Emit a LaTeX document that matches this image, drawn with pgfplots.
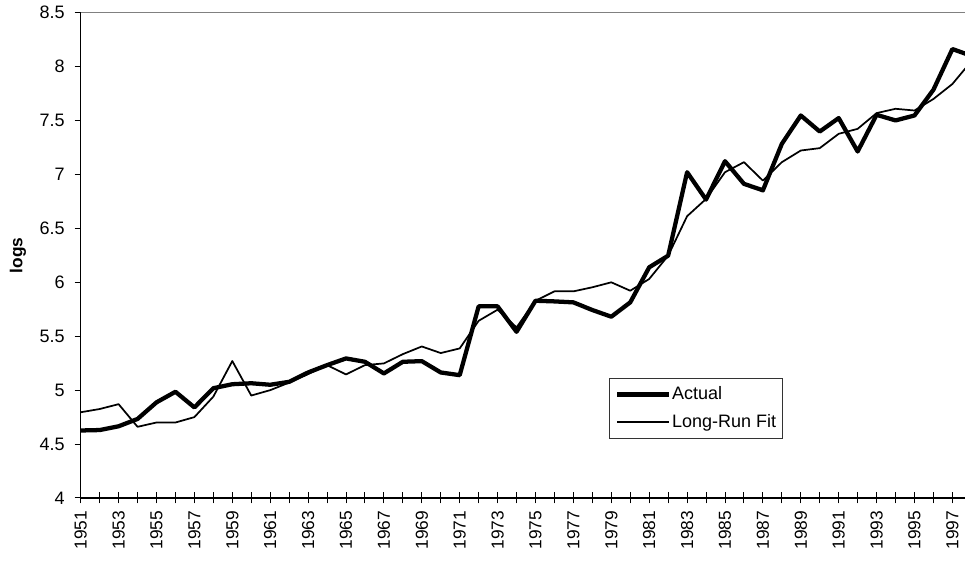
\documentclass[border=0pt]{standalone}
\usepackage{pgfplots}
\pgfplotsset{compat=1.18}
\usepackage{fontspec}
\setmainfont{Liberation Sans}
\begin{document}
\fontsize{13pt}{15.6pt}\selectfont
\begin{tikzpicture}
\begin{axis}[
  at={(0,0)}, anchor=south west,
  scale only axis,
  width=663.225pt, height=363.975pt,
  xmin=1951, xmax=1997.665,
  ymin=4, ymax=8.5,
  axis x line*=bottom, axis y line*=left,
  axis line style={line width=0.9pt, -},
  xtick={1951,1953,...,1997},
  minor xtick={1952,1954,...,1998},
  ytick={4,4.5,...,8.5},
  x tick label style={/pgf/number format/1000 sep={}},
  /pgf/number format/assume math mode=true,
  xtick align=center,
  ytick align=outside,
  major tick length=4.5pt,
  minor tick length=4.5pt,
  xtick style={/pgfplots/major tick length=8.25pt, /pgfplots/minor tick length=8.25pt},
  every tick/.style={black, line width=0.75pt},
  every minor tick/.style={black, line width=0.75pt},
  xticklabel style={rotate=90, anchor=east, inner sep=0pt, font=\fontsize{13pt}{15.6pt}\selectfont},
  yticklabel style={inner sep=0pt, font=\fontsize{13.5pt}{16pt}\selectfont},
  xticklabel shift=7.1pt,
  yticklabel shift=7.3pt,
  ylabel={\bfseries logs},
  every axis y label/.style={at={(axis description cs:-0.0709,0.5)}, rotate=90, anchor=center, font=\fontsize{13pt}{15.6pt}\selectfont},
  legend style={at={(axis description cs:0.5978,0.2467)}, anchor=north west,
    draw=black!80, line width=0.75pt, fill=white,
    inner xsep=4pt, inner ysep=5pt, row sep=7pt,
    font=\fontsize{13.5pt}{16pt}\selectfont,
    nodes={inner xsep=1pt, inner ysep=1pt}},
  legend cell align=left,
  legend image code/.code={\draw[#1] (0pt,0pt) -- (38.5pt,0pt);},
]
\addplot[black, line width=3.2pt, line join=round] coordinates {
(1951,4.626) (1952,4.63) (1953,4.665) (1954,4.733) (1955,4.887) (1956,4.985)
(1957,4.84) (1958,5.018) (1959,5.055) (1960,5.064) (1961,5.05) (1962,5.077)
(1963,5.164) (1964,5.232) (1965,5.294) (1966,5.263) (1967,5.155) (1968,5.263)
(1969,5.269) (1970,5.164) (1971,5.139) (1972,5.777) (1973,5.777) (1974,5.541)
(1975,5.829) (1976,5.823) (1977,5.814) (1978,5.743) (1979,5.681) (1980,5.814)
(1981,6.139) (1982,6.247) (1983,7.021) (1984,6.767) (1985,7.123) (1986,6.913)
(1987,6.853) (1988,7.284) (1989,7.547) (1990,7.398) (1991,7.523) (1992,7.213)
(1993,7.553) (1994,7.501) (1995,7.547) (1996,7.786) (1997,8.163) (1998,8.10)
};
\addlegendentry{Actual}
\addplot[black, line width=1.3pt, line join=round] coordinates {
(1951,4.795) (1952,4.825) (1953,4.87) (1954,4.66) (1955,4.70) (1956,4.70)
(1957,4.75) (1958,4.94) (1959,5.27) (1960,4.95) (1961,5.0) (1962,5.07)
(1963,5.149) (1964,5.232) (1965,5.146) (1966,5.232) (1967,5.248) (1968,5.334)
(1969,5.405) (1970,5.344) (1971,5.387) (1972,5.643) (1973,5.746) (1974,5.582)
(1975,5.829) (1976,5.916) (1977,5.916) (1978,5.954) (1979,6.0) (1980,5.922)
(1981,6.031) (1982,6.247) (1983,6.613) (1984,6.773) (1985,7.021) (1986,7.114)
(1987,6.943) (1988,7.114) (1989,7.222) (1990,7.244) (1991,7.377) (1992,7.423)
(1993,7.569) (1994,7.609) (1995,7.593) (1996,7.70) (1997,7.839) (1998,8.05)
};
\addlegendentry{Long-Run Fit}
\draw[black!50, line width=0.9pt] (rel axis cs:0,1) -- (rel axis cs:1,1);
\end{axis}
\pgfresetboundingbox
\useasboundingbox (-60.525pt,-48.75pt) rectangle (663.225pt,373.5pt);
\end{tikzpicture}
\end{document}
